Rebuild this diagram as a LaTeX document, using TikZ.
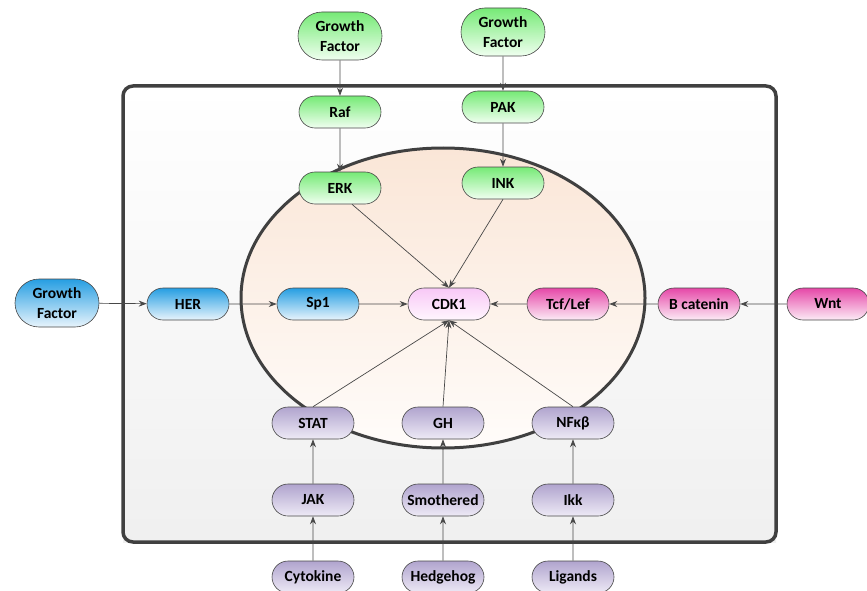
\documentclass[tikz,border=0pt]{standalone}
\usepackage{fontspec}
\setmainfont{Carlito}
\usetikzlibrary{shapes.misc,arrows.meta}
\definecolor{gtop}{RGB}{118,234,118}
\definecolor{gbot}{RGB}{240,255,240}
\definecolor{btop}{RGB}{38,158,226}
\definecolor{bbot}{RGB}{232,244,252}
\definecolor{ptop}{RGB}{230,72,168}
\definecolor{pbot}{RGB}{252,236,246}
\definecolor{vtop}{RGB}{176,164,206}
\definecolor{vbot}{RGB}{238,234,246}
\definecolor{ctop}{RGB}{248,200,246}
\definecolor{cbot}{RGB}{255,246,254}
\definecolor{nuc}{RGB}{250,230,215}
\definecolor{nucb}{RGB}{255,252,250}
\definecolor{edge}{RGB}{72,72,72}
\definecolor{wall}{RGB}{64,64,64}
\tikzset{
  box/.style={rounded rectangle, draw=edge, line width=0.6pt, minimum width=86pt,
    minimum height=32pt, inner sep=2pt, align=center,
    font=\bfseries\fontsize{15.5}{20}\selectfont, text=black},
  gbox/.style={box, top color=gtop, bottom color=gbot},
  bbox/.style={box, top color=btop, bottom color=bbot},
  pbox/.style={box, top color=ptop, bottom color=pbot},
  vbox/.style={box, top color=vtop, bottom color=vbot},
  cbox/.style={box, top color=ctop, bottom color=cbot},
  tall/.style={minimum width=88pt, minimum height=48pt},
  arr/.style={draw=edge, line width=0.7pt, -{Stealth[length=8pt,width=6pt]}}
}
\begin{document}
\begin{tikzpicture}[x=1pt,y=-1pt]
\useasboundingbox (0,0) rectangle (867,591);
\clip (0,0) rectangle (867,591);
% cell
\shade[top color=white, bottom color=black!6] (123,86) rectangle (776,542);
\draw[wall, line width=3.5pt, rounded corners=10pt] (123,86) rectangle (776,542);
% nucleus
\shade[top color=nuc, bottom color=nucb] (443,298) ellipse [x radius=202, y radius=150];
\draw[wall, line width=3pt] (443,298) ellipse [x radius=202, y radius=150];
% nodes
\node[gbox,tall] (gf1) at (340,36) {Growth\\Factor};
\node[gbox,tall] (gf2) at (503,32) {Growth\\Factor};
\node[gbox] (raf) at (340,112) {Raf};
\node[gbox] (pak) at (503,107) {PAK};
\node[gbox] (erk) at (340,188) {ERK};
\node[gbox] (ink) at (503,183) {INK};
\node[bbox,tall] (gf3) at (57,303) {Growth\\Factor};
\node[bbox] (her) at (188,304) {HER};
\node[bbox] (sp1) at (318,304) {Sp1};
\node[cbox] (cdk) at (449,304) {CDK1};
\node[pbox] (tcf) at (568,304) {Tcf/Lef};
\node[pbox] (bcat) at (699,304) {B catenin};
\node[pbox] (wnt) at (828,304) {Wnt};
\node[vbox] (stat) at (313,423) {STAT};
\node[vbox] (gh) at (443,423) {GH};
\node[vbox] (nfk) at (573,423) {NFκβ};
\node[vbox] (jak) at (313,500) {JAK};
\node[vbox] (smo) at (443,500) {Smothered};
\node[vbox] (ikk) at (573,500) {Ikk};
\node[vbox] (cyt) at (313,577) {Cytokine};
\node[vbox] (hh) at (443,577) {Hedgehog};
\node[vbox] (lig) at (573,577) {Ligands};
% connectors
\draw[arr] (gf1) -- (raf);
\draw[arr] (raf) -- (erk);
\draw[arr] (gf2) -- (pak);
\draw[arr] (pak) -- (ink);
\draw[arr] ([xshift=12pt]erk.south) -- (cdk.north);
\draw[arr] (ink.south) -- (cdk.north);
\draw[arr] (gf3) -- (her);
\draw[arr] (her) -- (sp1);
\draw[arr] (sp1) -- (cdk);
\draw[arr] (wnt) -- (bcat);
\draw[arr] (bcat) -- (tcf);
\draw[arr] (tcf) -- (cdk);
\draw[arr] (stat.north) -- (cdk.south);
\draw[arr] (gh.north) -- (cdk.south);
\draw[arr] (nfk.north) -- (cdk.south);
\draw[arr] (jak) -- (stat);
\draw[arr] (smo) -- (gh);
\draw[arr] (ikk) -- (nfk);
\draw[arr] (cyt) -- (jak);
\draw[arr] (hh) -- (smo);
\draw[arr] (lig) -- (ikk);
\end{tikzpicture}
\end{document}
